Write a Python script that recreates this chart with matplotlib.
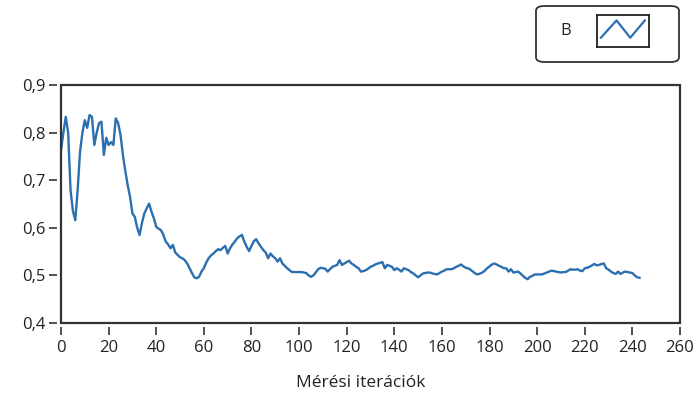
import matplotlib.pyplot as plt
from matplotlib.patches import Rectangle, FancyBboxPatch
from matplotlib.ticker import FuncFormatter

# measured values (one per iteration)
b_values = [
    0.763, 0.80, 0.833, 0.80, 0.68, 0.635, 0.616, 0.68, 0.76, 0.80,
    0.826, 0.81, 0.837, 0.833, 0.774, 0.80, 0.82, 0.823, 0.753, 0.789,
    0.774, 0.78, 0.774, 0.83, 0.82, 0.795, 0.753, 0.72, 0.69, 0.665,
    0.63, 0.623, 0.60, 0.585, 0.61, 0.63, 0.641, 0.651, 0.634, 0.62,
    0.602, 0.598, 0.595, 0.585, 0.571, 0.565, 0.557, 0.564, 0.548, 0.543,
    0.538, 0.536, 0.532, 0.525, 0.515, 0.505, 0.496, 0.494, 0.497, 0.508,
    0.515, 0.527, 0.536, 0.542, 0.546, 0.551, 0.555, 0.553, 0.558, 0.562,
    0.546, 0.557, 0.565, 0.571, 0.578, 0.582, 0.585, 0.571, 0.56, 0.551,
    0.562, 0.572, 0.576, 0.567, 0.56, 0.553, 0.548, 0.536, 0.546, 0.54,
    0.536, 0.529, 0.536, 0.525, 0.52, 0.515, 0.511, 0.507, 0.507, 0.507,
    0.507, 0.507, 0.506, 0.505, 0.50, 0.497, 0.50, 0.506, 0.513, 0.516,
    0.515, 0.514, 0.508, 0.513, 0.518, 0.52, 0.522, 0.532, 0.522, 0.525,
    0.528, 0.531, 0.525, 0.522, 0.518, 0.515, 0.508, 0.509, 0.511, 0.514,
    0.518, 0.52, 0.523, 0.525, 0.526, 0.528, 0.515, 0.522, 0.52, 0.518,
    0.511, 0.515, 0.512, 0.508, 0.515, 0.513, 0.511, 0.507, 0.504, 0.50,
    0.496, 0.50, 0.504, 0.505, 0.506, 0.506, 0.504, 0.503, 0.502, 0.505,
    0.508, 0.51, 0.513, 0.513, 0.513, 0.515, 0.518, 0.52, 0.523, 0.519,
    0.516, 0.515, 0.512, 0.508, 0.504, 0.502, 0.504, 0.506, 0.51, 0.515,
    0.519, 0.523, 0.525, 0.523, 0.52, 0.518, 0.515, 0.515, 0.508, 0.513,
    0.506, 0.507, 0.508, 0.504, 0.499, 0.495, 0.492, 0.497, 0.499, 0.502,
    0.502, 0.502, 0.502, 0.504, 0.506, 0.508, 0.51, 0.509, 0.508, 0.507,
    0.506, 0.507, 0.507, 0.51, 0.513, 0.512, 0.512, 0.513, 0.51, 0.509,
    0.515, 0.516, 0.518, 0.521, 0.524, 0.521, 0.522, 0.524, 0.525, 0.515,
    0.512, 0.508, 0.505, 0.503, 0.508, 0.503, 0.506, 0.508, 0.507, 0.506,
    0.505, 0.50, 0.496, 0.495,
]
iterations = list(range(len(b_values)))

x_ticks = list(range(0, 261, 20))
y_ticks = [0.4, 0.5, 0.6, 0.7, 0.8, 0.9]

line_color = '#2b6fb1'
text_color = '#222222'

plt.rcParams['font.family'] = ['Open Sans', 'DejaVu Sans']

fig = plt.figure(figsize=(6.96, 3.94), dpi=100)
ax = fig.add_axes([61 / 696, 71 / 394, 619 / 696, 238 / 394])

ax.plot(iterations, b_values, color=line_color, lw=1.7)

ax.set_xlim(0, 260)
ax.set_ylim(0.4, 0.9)
ax.set_xticks(x_ticks)
ax.set_yticks(y_ticks)
ax.yaxis.set_major_formatter(FuncFormatter(lambda v, p: f"{v:.1f}".replace('.', ',')))

# box around plot area, ticks are set a little off the box
for s in ax.spines.values():
    s.set_position(('outward', 3))
    s.set_visible(False)
ax.add_patch(Rectangle((0, 0), 1, 1, transform=ax.transAxes, fill=False,
                       lw=1.6, ec='#333333', clip_on=False, zorder=5))

ax.tick_params(axis='both', direction='out', length=6, width=1.2, color='#333333',
               labelsize=12, labelcolor=text_color)
ax.tick_params(axis='x', pad=3)
ax.tick_params(axis='y', pad=2)
ax.set_xlabel('Mérési iterációk', fontsize=12.5, color=text_color, labelpad=13)
ax.xaxis.set_label_coords(0.484, -0.22)

# legend drawn by hand (LabVIEW style)
fig.patches.append(FancyBboxPatch((536 / 696, 332 / 394), 143 / 696, 56 / 394,
                                  boxstyle='round,pad=0,rounding_size=0.012',
                                  transform=fig.transFigure, fill=False,
                                  ec='#333333', lw=1.3))
fig.text(566 / 696, 363 / 394, 'B', fontsize=12, color=text_color,
         ha='center', va='center')
icon = fig.add_axes([597 / 696, 347 / 394, 52 / 696, 32 / 394])
icon.plot([0.075, 0.375, 0.64, 0.92], [0.29, 0.83, 0.29, 0.83], color=line_color, lw=1.6)
icon.set_xlim(0, 1)
icon.set_ylim(0, 1)
icon.set_xticks([])
icon.set_yticks([])
for s in icon.spines.values():
    s.set_linewidth(1.3)
    s.set_color('#222222')

fig.savefig('out.png', dpi=100)
